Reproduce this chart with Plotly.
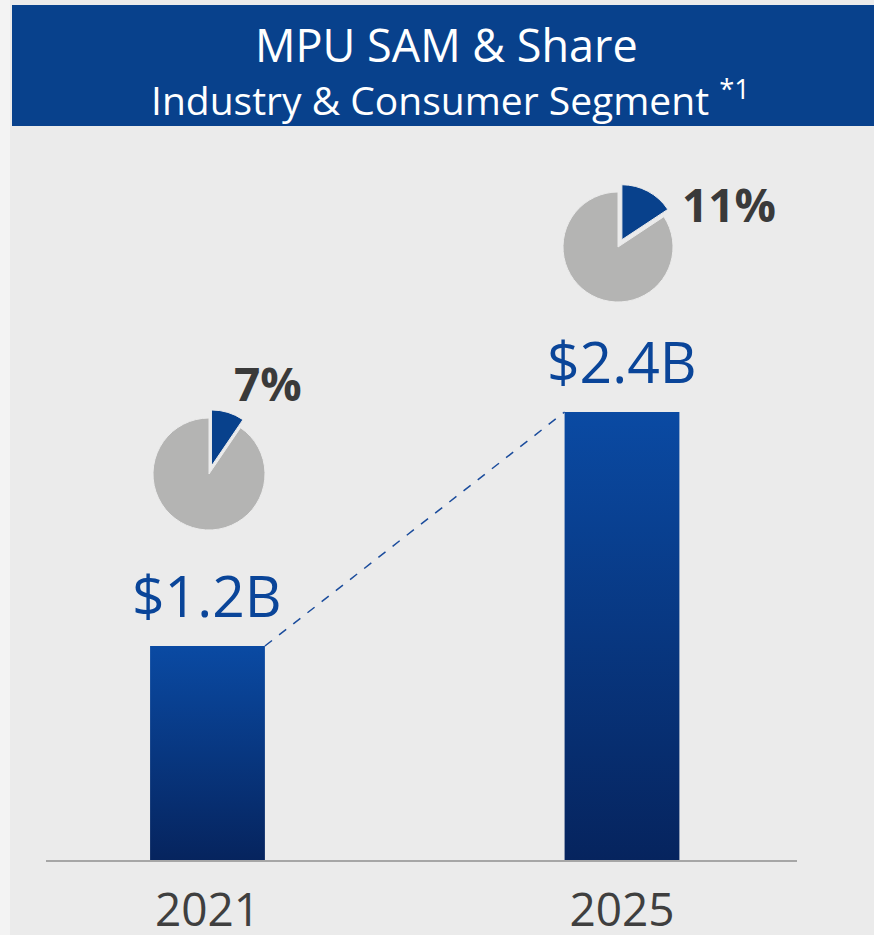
import plotly.graph_objects as go

# data
years = ['2021', '2025']
sam_values = [1.2, 2.4]          # SAM, $B
sam_labels = ['$1.2B', '$2.4B']
share_labels = ['7%', '11%']     # market share as printed
share_slice = [9.5, 15.7]        # share slice as drawn, % of pie

W, H = 874, 935
BLUE = '#08418c'
BAR_TOP = '#0a4aa3'
BAR_BOTTOM = '#06245e'
BG = '#ebebeb'
FONT = 'Open Sans'

bar_w = 0.277
y0 = 0.1026                     # axis baseline
y_top = y0 + 860 / 195

fig = go.Figure()

# bars with vertical gradient (filled areas on a numeric x axis)
for i, v in enumerate(sam_values):
    fig.add_trace(go.Scatter(
        x=[i - bar_w / 2, i + bar_w / 2], y=[v, v],
        mode='lines', line=dict(width=0),
        fill='tozeroy',
        fillgradient=dict(type='vertical', start=y0, stop=v,
                          colorscale=[[0, BAR_BOTTOM], [1, BAR_TOP]]),
        hoverinfo='skip', showlegend=False
    ))

# dashed connector between bar tops
fig.add_trace(go.Scatter(
    x=[0 + bar_w / 2, 1 - bar_w / 2], y=[sam_values[0], sam_values[1]],
    mode='lines', line=dict(color='#1b4c9c', width=1.5, dash='dash'),
    hoverinfo='skip', showlegend=False
))

# value labels
for i, (v, lab) in enumerate(zip(sam_values, sam_labels)):
    fig.add_annotation(x=i, y=v, text=lab, showarrow=False,
                       xanchor='center', yanchor='bottom', yshift=10,
                       font=dict(family=FONT, size=57, color='#0a4599'))

# share pies
pie_pos = [(209, 474, 56), (618, 247, 55)]
pull = 0.15
for (cx, cy, r), p in zip(pie_pos, share_slice):
    half = r * (1 + pull)
    fig.add_trace(go.Pie(
        values=[p, 100 - p], sort=False, direction='clockwise', rotation=0,
        pull=[pull, 0], textinfo='none', hoverinfo='skip', showlegend=False,
        marker=dict(colors=['#08418c', '#b4b4b3'], line=dict(color=BG, width=1)),
        domain=dict(x=[(cx - half) / W, (cx + half) / W],
                    y=[(H - cy - half) / H, (H - cy + half) / H])
    ))

pct_pos = [(268, 383), (729, 204)]
for (px_, py_), lab in zip(pct_pos, share_labels):
    fig.add_annotation(x=px_ / W, y=1 - py_ / H, xref='paper', yref='paper',
                       text=f'<b>{lab}</b>', showarrow=False,
                       xanchor='center', yanchor='middle',
                       font=dict(family=FONT, size=46, color='#3a3a3a'))

# header band
fig.add_shape(type='rect', xref='paper', yref='paper',
              x0=12 / W, x1=1, y0=1 - 126 / H, y1=1 - 5 / H,
              fillcolor=BLUE, line=dict(width=0), layer='below')
fig.add_shape(type='rect', xref='paper', yref='paper',
              x0=0, x1=10 / W, y0=0, y1=1,
              fillcolor='#f3f3f3', line=dict(width=0), layer='below')
fig.add_annotation(x=446 / W, y=1 - 45 / H, xref='paper', yref='paper',
                   text='MPU SAM &amp; Share', showarrow=False,
                   xanchor='center', yanchor='middle',
                   font=dict(family=FONT, size=45, color='white'))
fig.add_annotation(x=451 / W, y=1 - 98 / H, xref='paper', yref='paper',
                   text='Industry &amp; Consumer Segment <sup>*1</sup>', showarrow=False,
                   xanchor='center', yanchor='middle',
                   font=dict(family=FONT, size=39, color='white'))

fig.update_layout(
    width=W, height=H,
    margin=dict(l=0, r=0, t=0, b=0),
    paper_bgcolor=BG, plot_bgcolor=BG,
    xaxis=dict(domain=[46 / W, 797 / W], range=[-0.3896, 1.4222],
               tickmode='array', tickvals=[0, 1], ticktext=years,
               showgrid=False, zeroline=False, automargin=False,
               showline=True, linecolor='#a6a6a6', linewidth=2,
               ticks='', ticklabelstandoff=9,
               tickfont=dict(family=FONT, size=46, color='#3f3f3f')),
    yaxis=dict(domain=[1 - 860 / H, 1], range=[y0, y_top], automargin=False,
               visible=False, showgrid=False, zeroline=False),
)

page_fix = (
    "document.documentElement.style.overflow='hidden';"
    "document.body.style.margin='0';"
)
fig.write_html('out.html', config={'displayModeBar': False}, post_script=page_fix)
